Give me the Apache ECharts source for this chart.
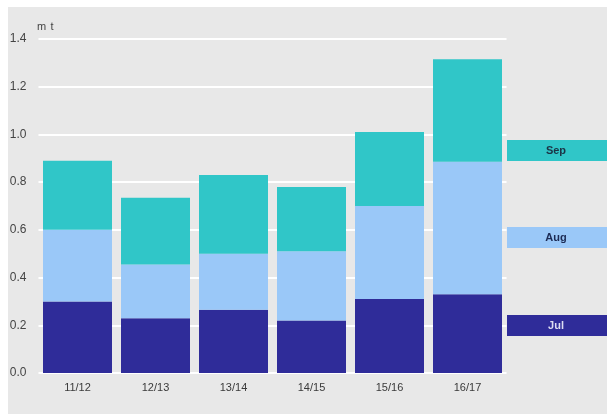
<!DOCTYPE html>
<html>
<head>
<meta charset="utf-8">
<script src="https://cdn.jsdelivr.net/npm/echarts@6/dist/echarts.min.js"></script>
<style>
html,body{margin:0;padding:0;background:#ffffff;}
#c{position:absolute;left:0;top:0;width:607px;height:414px;}
</style>
</head>
<body>
<div id="c"></div>
<script>
const categories = ['11/12', '12/13', '13/14', '14/15', '15/16', '16/17'];
const julValues = [0.30, 0.23, 0.265, 0.22, 0.31, 0.33];
const augValues = [0.30, 0.225, 0.235, 0.29, 0.39, 0.555];
const sepValues = [0.29, 0.28, 0.33, 0.27, 0.31, 0.43];
const yTicks = [0, 0.2, 0.4, 0.6, 0.8, 1.0, 1.2, 1.4];
const unitLabel = 'm t';

const colors = { Jul: '#2f2c99', Aug: '#9ac8f8', Sep: '#30c6c8' };

const chart = echarts.init(document.getElementById('c'), null, { renderer: 'canvas' });

function legendBox(name, top, textColor) {
  return {
    type: 'group',
    left: 507,
    top: top,
    children: [
      { type: 'rect', shape: { x: 0, y: 0, width: 100, height: 21 }, style: { fill: colors[name] } },
      { type: 'text', x: 49, y: 11, style: { text: name, fill: textColor, font: 'bold 11px Arial, "Liberation Sans", sans-serif', align: 'center', verticalAlign: 'middle' } }
    ]
  };
}

const option = {
  backgroundColor: '#ffffff',
  animation: false,
  grid: { left: 38.5, right: 100.5, top: 39, bottom: 41, containLabel: false },
  graphic: [
    { type: 'rect', left: 8, top: 7, z: -10, shape: { width: 599, height: 407 }, style: { fill: '#e8e8e8' } },
    { type: 'text', left: 37, top: 21, style: { text: 'm\u2009\u2009t', fill: '#444444', font: '11px Arial, "Liberation Sans", sans-serif' } },
    legendBox('Sep', 140, '#1b3446'),
    legendBox('Aug', 227, '#1c2b55'),
    legendBox('Jul', 315, '#dcdcf2')
  ],
  xAxis: {
    type: 'category',
    data: categories,
    axisLine: { show: false },
    axisTick: { show: false },
    axisLabel: { color: '#3a3a3a', fontSize: 11, fontFamily: 'Arial, "Liberation Sans", sans-serif', margin: 9 }
  },
  yAxis: {
    type: 'value',
    min: yTicks[0],
    max: yTicks[yTicks.length - 1],
    interval: 0.2,
    axisLine: { show: false },
    axisTick: { show: false },
    axisLabel: { color: '#444444', fontSize: 12, fontFamily: 'Arial, "Liberation Sans", sans-serif', margin: 12, formatter: v => v.toFixed(1) },
    splitLine: { show: true, lineStyle: { color: '#ffffff', width: 2 } }
  },
  series: [
    { name: 'Jul', type: 'bar', stack: 'total', data: julValues, barWidth: 69, itemStyle: { color: colors.Jul } },
    { name: 'Aug', type: 'bar', stack: 'total', data: augValues, barWidth: 69, itemStyle: { color: colors.Aug } },
    { name: 'Sep', type: 'bar', stack: 'total', data: sepValues, barWidth: 69, itemStyle: { color: colors.Sep } }
  ]
};
chart.setOption(option);
</script>
</body>
</html>
